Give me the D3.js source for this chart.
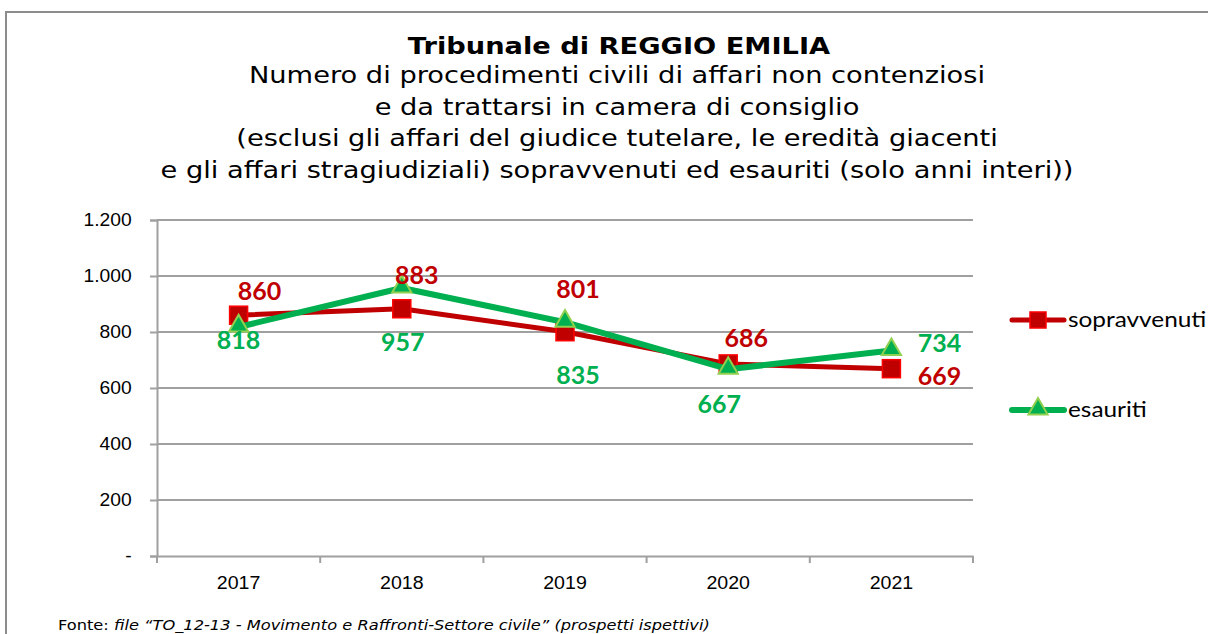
<!DOCTYPE html>
<html>
<head>
<meta charset="utf-8">
<script src="https://cdnjs.cloudflare.com/ajax/libs/d3/7.8.5/d3.min.js"></script>
<style>
  body { margin: 0; background: #fff; }
  svg { display: block; }
</style>
</head>
<body>
<svg width="1208" height="634"></svg>
<script>
// data
var years = ['2017', '2018', '2019', '2020', '2021']
var sopravvenuti = [860, 883, 801, 686, 669]
var esauriti = [818, 957, 835, 667, 734]
var yTicks = [0, 200, 400, 600, 800, 1000, 1200]

// where Excel put the data labels, relative to the point (dx, dy)
var redNudge = [[21, -24], [15, -34], [13, -43], [18, -26], [48, 7]]
var greenNudge = [[0, 13], [1, 54], [13, 53], [-9, 35], [48, -7]]

var svg = d3.select('svg')

// the original picture is a bit stretched sideways, so the texts are too
var stretch = 1.16

function stretchedText(x, y) {
  return svg.append('text')
    .attr('transform', 'translate(' + x + ',' + y + ') scale(' + stretch + ',1)')
}

// frame
svg.append('path')
  .attr('d', 'M6,634 V12 H1208')
  .attr('fill', 'none')
  .attr('stroke', '#8c8c8c')
  .attr('stroke-width', 2)

// titles
var titleFont = 'DejaVu Sans, Verdana, sans-serif'
stretchedText(619, 54)
  .attr('text-anchor', 'middle')
  .style('font-family', titleFont)
  .style('font-weight', 'bold')
  .style('font-size', '23.5px')
  .text('Tribunale di REGGIO EMILIA')

var subLines = [
  'Numero di procedimenti civili di affari non contenziosi',
  'e da trattarsi in camera di consiglio',
  '(esclusi gli affari del giudice tutelare, le eredità giacenti',
  'e gli affari stragiudiziali) sopravvenuti ed esauriti (solo anni interi))'
]
subLines.forEach(function(s, i) {
  stretchedText(617, 83 + i * 31.5)
    .attr('text-anchor', 'middle')
    .style('font-family', titleFont)
    .style('font-size', '23.5px')
    .text(s)
})

// scales
var x = d3.scaleBand().domain(years).range([157, 973])
var y = d3.scaleLinear().domain([0, 1200]).range([556, 220])
var cx = function(d, i) { return x(years[i]) + x.bandwidth() / 2 }

// gridlines
svg.append('g')
  .selectAll('line')
  .data(yTicks.slice(1))
  .enter().append('line')
  .attr('x1', 157).attr('x2', 973)
  .attr('y1', function(d) { return y(d) })
  .attr('y2', function(d) { return y(d) })
  .attr('stroke', '#a0a0a0')
  .attr('stroke-width', 2)

// y axis
var yAxis = d3.axisLeft(y)
  .tickValues(yTicks)
  .tickSize(7)
  .tickPadding(16)
  .tickFormat(function(d) { return d === 0 ? '-' : d3.format(',')(d).replace(/,/g, '.') })
var gy = svg.append('g')
  .attr('transform', 'translate(157,0)')
  .call(yAxis)
gy.select('.domain').attr('stroke', '#a0a0a0').attr('stroke-width', 2)
gy.selectAll('.tick line').attr('stroke', '#a0a0a0').attr('stroke-width', 2)
gy.selectAll('.tick text')
  .style('font-family', 'Liberation Sans, Arial, sans-serif')
  .style('font-size', '17.5px')
  .attr('fill', '#000')
  .attr('transform', 'scale(1.1,1)')

// x axis
var xAxis = d3.axisBottom(x).tickSize(0).tickPadding(21)
var gx = svg.append('g')
  .attr('transform', 'translate(0,556)')
  .call(xAxis)
gx.select('.domain').attr('stroke', '#a0a0a0').attr('stroke-width', 2)
gx.selectAll('.tick text')
  .style('font-family', 'Liberation Sans, Arial, sans-serif')
  .style('font-size', '17.5px')
  .attr('fill', '#000')
  .attr('transform', 'scale(1.12,1)')
// category separators
gx.selectAll('line.sep')
  .data(years.concat(['end']))
  .enter().append('line')
  .classed('sep', true)
  .attr('x1', function(d, i) { return 157 + i * x.bandwidth() })
  .attr('x2', function(d, i) { return 157 + i * x.bandwidth() })
  .attr('y1', 0).attr('y2', 7)
  .attr('stroke', '#a0a0a0').attr('stroke-width', 2)

var line = d3.line()
  .x(cx)
  .y(function(d) { return y(d) })

var labelFont = 'Lato, Open Sans, sans-serif'

// sopravvenuti
svg.append('path')
  .datum(sopravvenuti)
  .attr('d', line)
  .attr('fill', 'none')
  .attr('stroke', '#c00000')
  .attr('stroke-width', 5)
  .attr('stroke-linejoin', 'round')
svg.selectAll('rect.sq')
  .data(sopravvenuti)
  .enter().append('rect')
  .classed('sq', true)
  .attr('x', function(d, i) { return cx(d, i) - 9 })
  .attr('y', function(d) { return y(d) - 9 })
  .attr('width', 18).attr('height', 18)
  .attr('fill', '#c00000')
  .attr('stroke', '#ff0000')
  .attr('stroke-width', 1.5)

// esauriti
svg.append('path')
  .datum(esauriti)
  .attr('d', line)
  .attr('fill', 'none')
  .attr('stroke', '#00b050')
  .attr('stroke-width', 6)
  .attr('stroke-linejoin', 'round')
var tri = d3.symbol().type(d3.symbolTriangle).size(160)
svg.selectAll('path.tri')
  .data(esauriti)
  .enter().append('path')
  .classed('tri', true)
  .attr('d', tri)
  .attr('transform', function(d, i) { return 'translate(' + cx(d, i) + ',' + (y(d) - 1) + ')' })
  .attr('fill', '#00b050')
  .attr('stroke', '#92d050')
  .attr('stroke-width', 2)

// data labels
svg.selectAll('text.lr')
  .data(sopravvenuti)
  .enter().append('text')
  .classed('lr', true)
  .attr('x', function(d, i) { return cx(d, i) + redNudge[i][0] })
  .attr('y', function(d, i) { return y(d) + redNudge[i][1] })
  .attr('dy', '0.36em')
  .attr('text-anchor', 'middle')
  .style('font-family', labelFont)
  .style('font-weight', 'bold')
  .style('font-size', '25px')
  .attr('fill', '#c00000')
  .text(function(d) { return d })
svg.selectAll('text.lg')
  .data(esauriti)
  .enter().append('text')
  .classed('lg', true)
  .attr('x', function(d, i) { return cx(d, i) + greenNudge[i][0] })
  .attr('y', function(d, i) { return y(d) + greenNudge[i][1] })
  .attr('dy', '0.36em')
  .attr('text-anchor', 'middle')
  .style('font-family', labelFont)
  .style('font-weight', 'bold')
  .style('font-size', '25px')
  .attr('fill', '#00b050')
  .text(function(d) { return d })

// legend
var leg = [
  { name: 'sopravvenuti', color: '#c00000', w: 5, y: 320 },
  { name: 'esauriti', color: '#00b050', w: 6, y: 410 }
]
var legend = svg.append('g')
legend.selectAll('line')
  .data(leg)
  .enter().append('line')
  .attr('x1', 1012).attr('x2', 1064)
  .attr('y1', function(d) { return d.y })
  .attr('y2', function(d) { return d.y })
  .attr('stroke', function(d) { return d.color })
  .attr('stroke-width', function(d) { return d.w })
  .attr('stroke-linecap', 'round')
legend.append('rect')
  .attr('x', 1030).attr('y', 312)
  .attr('width', 16).attr('height', 16)
  .attr('fill', '#c00000')
  .attr('stroke', '#ff0000')
  .attr('stroke-width', 1.5)
legend.append('path')
  .attr('d', tri)
  .attr('transform', 'translate(1038,409)')
  .attr('fill', '#00b050')
  .attr('stroke', '#92d050')
  .attr('stroke-width', 2)
leg.forEach(function(d) {
  stretchedText(1068, d.y)
    .attr('dy', '0.35em')
    .style('font-family', labelFont)
    .style('font-size', '21px')
    .text(d.name)
})

// source note
var src = stretchedText(58, 630)
  .style('font-family', titleFont)
  .style('font-size', '14px')
src.append('tspan').text('Fonte: ')
src.append('tspan').style('font-style', 'italic')
  .text('file \u201cTO_12-13 - Movimento e Raffronti-Settore civile\u201d (prospetti ispettivi)')
</script>
</body>
</html>
